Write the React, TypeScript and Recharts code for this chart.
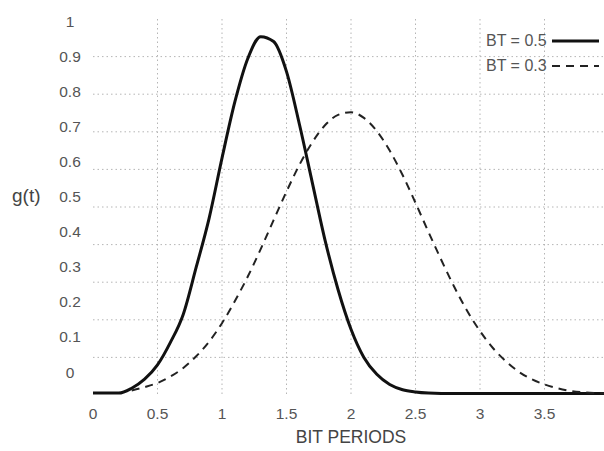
import React from "react"
import { CartesianGrid, Legend, Line, LineChart, XAxis, YAxis } from "recharts"

// bit periods (x) sampled every 0.1
const bitPeriods = [
  0, 0.1, 0.2, 0.3, 0.4, 0.5, 0.6, 0.7, 0.8, 0.9, 1, 1.1, 1.2, 1.3, 1.4, 1.5, 1.6, 1.7, 1.8, 1.9, 2, 2.1, 2.2,
  2.3, 2.4, 2.5, 2.6, 2.7, 2.8, 2.9, 3, 3.1, 3.2, 3.3, 3.4, 3.5, 3.6, 3.7, 3.8, 3.9, 4,
]

// g(t) for BT = 0.5 (solid)
const bt05 = [
  0.005, 0.005, 0.005, 0.018, 0.042, 0.08, 0.14, 0.215, 0.34, 0.47, 0.63, 0.78, 0.895, 0.953, 0.94, 0.86, 0.72,
  0.565, 0.41, 0.28, 0.175, 0.1, 0.055, 0.028, 0.014, 0.008, 0.005, 0.004, 0.004, 0.004, 0.004, 0.004, 0.004,
  0.004, 0.004, 0.004, 0.004, 0.004, 0.004, 0.004, 0.004,
]

// g(t) for BT = 0.3 (dashed)
const bt03 = [
  null, null, null, 0.012, 0.021, 0.032, 0.049, 0.072, 0.103, 0.142, 0.191, 0.25, 0.315, 0.388, 0.465, 0.541,
  0.612, 0.672, 0.718, 0.745, 0.752, 0.737, 0.702, 0.65, 0.585, 0.511, 0.434, 0.359, 0.288, 0.224, 0.17, 0.125,
  0.09, 0.062, 0.042, 0.028, 0.018, 0.011, 0.007, 0.005, 0.004,
]

const xTicks = [0, 0.5, 1, 1.5, 2, 2.5, 3, 3.5, 4]
const xGridTicks = [0.5, 1, 1.5, 2, 2.5, 3, 3.5, 4]
const yLabelTicks = [0, 0.1, 0.2, 0.3, 0.4, 0.5, 0.6, 0.7, 0.8, 0.9, 1]
const yGridTicks = [0.1, 0.2, 0.3, 0.4, 0.5, 0.6, 0.7, 0.8, 0.9]

const series = [
  { key: "bt05", name: "BT = 0.5", color: "#111", width: 3, dash: undefined as string | undefined },
  { key: "bt03", name: "BT = 0.3", color: "#222", width: 2, dash: "8 6" },
]

const chartData = bitPeriods.map((t, i) => ({ t, bt05: bt05[i], bt03: bt03[i] }))

const FONT = '"Liberation Sans", Arial, Helvetica, sans-serif'

// the y labels sit on their own (offset) scale, as in the original figure
const YTick = (props: any) => (
  <text x={70} y={props.y} textAnchor="middle" dominantBaseline="central" fill="#555" fontSize={15.5} fontFamily={FONT}>
    {props.payload.value}
  </text>
)

const LegendBox = () => (
  <div style={{ fontFamily: FONT, fontSize: 16, color: "#555" }}>
    {series.map((s) => (
      <div key={s.key} style={{ display: "flex", alignItems: "center", height: 25, whiteSpace: "nowrap" }}>
        <span>{s.name}</span>
        <svg width={50} height={6} style={{ marginLeft: 5 }}>
          <line x1={0} x2={47} y1={3} y2={3} stroke={s.color} strokeWidth={s.width} strokeDasharray={s.dash} />
        </svg>
      </div>
    ))}
  </div>
)

export default function App() {
  return (
    <div style={{ position: "absolute", left: 0, top: 0, width: 604, height: 451, overflow: "hidden", background: "#fff" }}>
      <LineChart width={620} height={451} data={chartData} margin={{ top: 19, right: 11, bottom: 0, left: 0 }}>
        <CartesianGrid
          xAxisId="x"
          yAxisId="v"
          stroke="#b5b5b5"
          strokeDasharray="1.5 3"
          horizontalValues={yGridTicks}
          verticalValues={xGridTicks}
        />
        <XAxis
          xAxisId="x"
          dataKey="t"
          type="number"
          domain={[0, 4]}
          ticks={xTicks}
          height={56}
          axisLine={false}
          tickLine={false}
          tickMargin={7}
          tick={{ fill: "#555", fontSize: 15.5, fontFamily: FONT }}
          label={{ value: "BIT PERIODS", position: "insideBottom", offset: 8, fill: "#444", fontSize: 17.5, fontFamily: FONT }}
        />
        <YAxis
          yAxisId="lab"
          type="number"
          domain={[-0.0655, 1.0057]}
          allowDataOverflow
          ticks={yLabelTicks}
          width={93}
          axisLine={false}
          tickLine={false}
          tick={YTick}
          label={{ value: "g(t)", position: "insideLeft", offset: 12, dy: -12, fill: "#444", fontSize: 19, fontFamily: FONT }}
        />
        <YAxis yAxisId="v" type="number" domain={[0, 1]} width={0} hide />
        <Legend
          layout="vertical"
          align="center"
          verticalAlign="middle"
          content={LegendBox}
          wrapperStyle={{ top: 28, left: 486, width: 130 }}
        />
        <Line
          xAxisId="x"
          yAxisId="v"
          type="monotone"
          dataKey="bt05"
          name="BT = 0.5"
          stroke="#111"
          strokeWidth={3}
          dot={false}
          isAnimationActive={false}
        />
        <Line
          xAxisId="x"
          yAxisId="v"
          type="monotone"
          dataKey="bt03"
          name="BT = 0.3"
          stroke="#222"
          strokeWidth={2}
          strokeDasharray="8 6"
          dot={false}
          isAnimationActive={false}
        />
      </LineChart>
    </div>
  )
}
